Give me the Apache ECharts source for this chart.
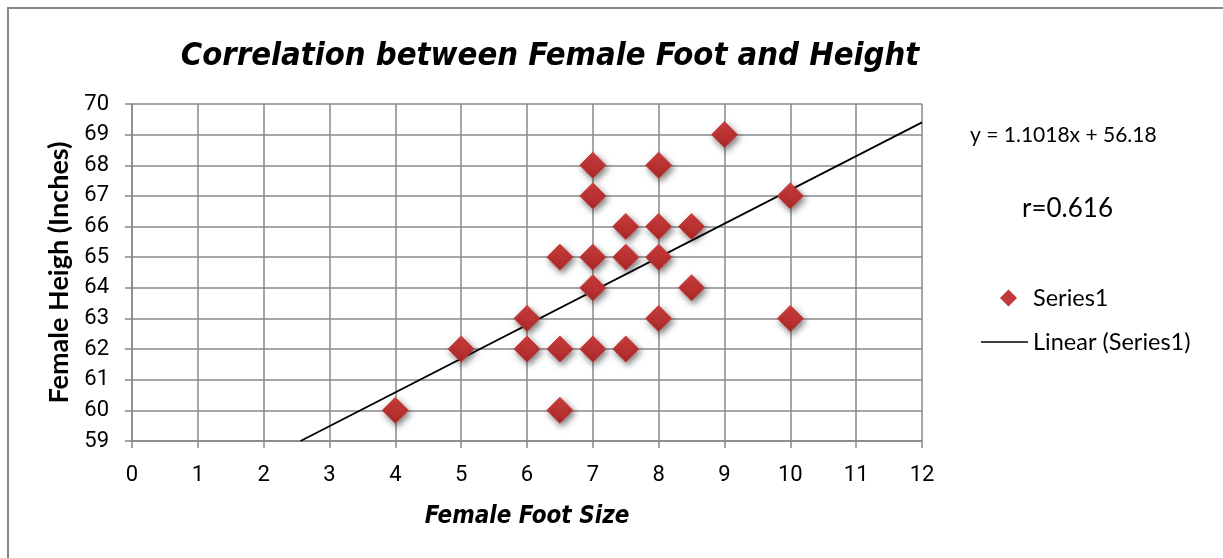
<!DOCTYPE html>
<html>
<head>
<meta charset="utf-8">
<script src="https://cdn.jsdelivr.net/npm/echarts@6/dist/echarts.min.js"></script>
<style>
html,body{margin:0;padding:0;background:#fff;}
#chart{width:1223px;height:558px;}
</style>
</head>
<body>
<div id="chart"></div>
<script>
// Data
var footSize = [4, 5, 6, 6, 6.5, 6.5, 6.5, 7, 7, 7, 7, 7, 7.5, 7.5, 7.5, 8, 8, 8, 8, 8.5, 8.5, 9, 10, 10];
var height   = [60, 62, 63, 62, 65, 62, 60, 68, 67, 65, 64, 62, 66, 65, 62, 68, 66, 65, 63, 66, 64, 69, 67, 63];
// Trendline as reported on the chart
var trendSlope = 1.1018;
var trendIntercept = 56.18;
var trendXRange = [2.56, 12];
var xTicks = [0, 1, 2, 3, 4, 5, 6, 7, 8, 9, 10, 11, 12];
var yTicks = [59, 60, 61, 62, 63, 64, 65, 66, 67, 68, 69, 70];

var points = footSize.map(function (x, i) { return [x, height[i]]; });
var trend = trendXRange.map(function (x) { return [x, trendSlope * x + trendIntercept]; });

var chart = echarts.init(document.getElementById('chart'), null, {renderer: 'canvas'});
var narrow = "'Liberation Sans Narrow', 'DejaVu Sans Condensed', Roboto, sans-serif";
var tickFont = "Roboto, sans-serif";
chart.setOption({
  animation: false,
  backgroundColor: '#fff',
  title: {
    text: 'Correlation between Female Foot and Height',
    left: 545, textAlign: 'center', top: 35,
    textStyle: {fontFamily: narrow, fontStyle: 'italic', fontWeight: 'bold', fontSize: 32.5, color: '#000'}
  },
  grid: {left: 132, right: 301, top: 104, bottom: 117},
  xAxis: {
    type: 'value', min: 0, max: 12, interval: 1,
    name: 'Female Foot Size', nameLocation: 'middle', nameGap: 64,
    nameTextStyle: {fontFamily: narrow, fontStyle: 'italic', fontWeight: 'bold', fontSize: 24, color: '#000'},
    axisLine: {lineStyle: {color: '#888', width: 1.5}},
    axisTick: {show: true, length: 7, lineStyle: {color: '#888', width: 1.5}},
    axisLabel: {fontFamily: tickFont, fontSize: 22, color: '#000', margin: 23,
      formatter: function (v) { return xTicks.indexOf(v) >= 0 ? String(v) : ''; }},
    splitLine: {show: true, lineStyle: {color: '#888', width: 1.5}}
  },
  yAxis: {
    type: 'value', min: 59, max: 70, interval: 1,
    name: 'Female Heigh (Inches)', nameLocation: 'middle', nameGap: 59, nameRotate: 90,
    nameTextStyle: {fontFamily: 'Lato', fontWeight: 'bold', fontSize: 27, color: '#000'},
    axisLine: {show: true, lineStyle: {color: '#888', width: 1.5}},
    axisTick: {show: true, length: 7, lineStyle: {color: '#888', width: 1.5}},
    axisLabel: {fontFamily: tickFont, fontSize: 22, color: '#000', margin: 23,
      formatter: function (v) { return yTicks.indexOf(v) >= 0 ? String(v) : ''; }},
    splitLine: {show: true, lineStyle: {color: '#888', width: 1.5}}
  },
  legend: {
    orient: 'vertical', left: 973, top: 281,
    itemWidth: 50, itemHeight: 17, itemGap: 20,
    textStyle: {fontFamily: 'Lato', fontSize: 23.5, color: '#000'},
    data: [
      {name: 'Series1', icon: 'path://M0,0 M50,17 M22,8.5 L30.5,0 L39,8.5 L30.5,17 Z',
        itemStyle: {color: '#C0393B', borderWidth: 0, shadowBlur: 0, shadowOffsetX: 0, shadowOffsetY: 0}},
      {name: 'Linear (Series1)', icon: 'path://M0,0 M50,17 M3,7.8 L50,7.8 L50,9.2 L3,9.2 Z',
        itemStyle: {color: '#000', borderWidth: 0}}
    ]
  },
  series: [
    {
      name: 'Linear (Series1)', type: 'line', data: trend, symbol: 'none', silent: true, z: 1,
      itemStyle: {color: '#000'},
      lineStyle: {color: '#000', width: 1.8}
    },
    {
      name: 'Series1', type: 'scatter', data: points, symbol: 'diamond', symbolSize: 26, z: 2,
      itemStyle: {
        opacity: 1,
        color: new echarts.graphic.LinearGradient(0, 0, 0, 1, [
          {offset: 0, color: '#D4403F'}, {offset: 1, color: '#A82828'}
        ]),
        borderColor: '#C93C3C', borderWidth: 1,
        shadowColor: 'rgba(0,0,0,0.5)', shadowBlur: 6, shadowOffsetX: 2, shadowOffsetY: 3
      }
    }
  ],
  graphic: [
    {type: 'rect', shape: {x: 8, y: 8, width: 1240, height: 600}, style: {fill: 'none', stroke: '#888', lineWidth: 2}, silent: true},
    {type: 'text', left: 970, top: 125, style: {text: 'y = 1.1018x + 56.18', font: '21px Lato', fill: '#000'}},
    {type: 'text', left: 1022, top: 196, style: {text: 'r=0.616', font: '26px Lato', fill: '#000'}}
  ]
});
</script>
</body>
</html>
